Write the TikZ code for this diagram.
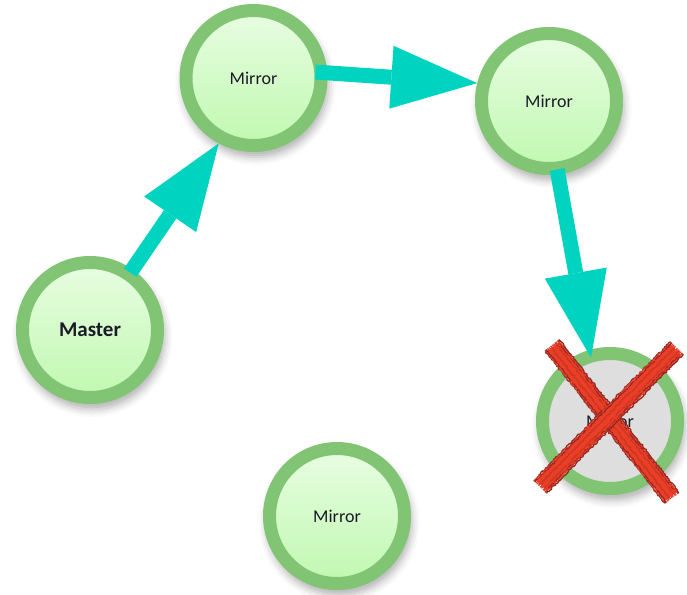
\documentclass[tikz,border=0pt]{standalone}
\usepackage{fontspec}
\setmainfont{Carlito}
\usetikzlibrary{arrows.meta,shadows.blur,decorations.pathmorphing,calc}

\definecolor{ringc}{RGB}{128,196,116}
\definecolor{filltop}{RGB}{232,253,226}
\definecolor{fillbot}{RGB}{192,248,176}
\definecolor{deadfill}{RGB}{222,222,222}
\definecolor{arrowc}{RGB}{0,212,192}
\definecolor{labelc}{RGB}{26,26,40}
\definecolor{crossc}{RGB}{234,62,38}
\definecolor{crossdark}{RGB}{150,40,35}

\tikzset{
  server/.style={circle, minimum size=135bp, inner sep=0pt,
    line width=13bp, draw=ringc, top color=filltop, bottom color=fillbot,
    text=labelc, font=\fontsize{18bp}{22bp}\selectfont,
    blur shadow={shadow xshift=2bp, shadow yshift=-6bp, shadow scale=1.08,
      shadow blur radius=7bp, shadow opacity=30}},
  masterserver/.style={server, font=\fontsize{21bp}{25bp}\selectfont\bfseries},
  deadserver/.style={server, top color=deadfill, bottom color=deadfill},
  conn/.style={draw=arrowc, line width=15bp,
    -{Triangle[length=86bp, width=63bp, line width=0pt]}},
  xbase/.style={draw=crossc, line width=15bp},
  xgrain/.style={line width=1.3bp, line join=round,
    decorate, decoration={random steps, segment length=1.6bp, amplitude=0.9bp}},
}

\begin{document}
\begin{tikzpicture}[x=1bp, y=-1bp]
  \useasboundingbox (0,0) rectangle (687,595);

  % servers
  \node[masterserver] (master) at (90,330) {Master};
  \node[server] (m1) at (253.5,78) {Mirror};
  \node[server] (m2) at (549,101) {Mirror};
  \node[server] (m3) at (337,516) {Mirror};
  \node[deadserver] (dead) at (610,421) {Mirror};

  % replication chain
  \draw[conn, shorten <=-4bp] (master.55) -- (m1.242);
  \draw[conn, shorten <=-12bp] (m1.4) -- (m2.166);
  \draw[conn, shorten <=-5bp, shorten >=-8bp] (m2.-83) -- (dead.106);

  % failed mirror crossed out with a rough, chalky stroke
  \coordinate (xa1) at (552,345);
  \coordinate (xa2) at (672,498);
  \coordinate (xb1) at (677,348);
  \coordinate (xb2) at (540,487);
  \foreach \s/\e in {xa1/xa2, xb1/xb2}{
    \draw[xbase] ($(\s)!2bp!(\e)$) -- ($(\e)!2bp!(\s)$);
    \foreach \o/\c in {-9/crossdark, -8/crossc, -7/crossdark, -5.5/crossc,
                       -4/crossc, -2/crossdark!40!crossc, 0/crossc,
                       2/crossc, 4/crossdark!40!crossc, 5.5/crossc,
                       7/crossdark, 8/crossc, 9/crossdark}{
      \draw[xgrain, draw=\c]
        ($(\s)!\o bp!90:(\e)$) -- ($(\e)!\o bp!-90:(\s)$);
    }
  }
\end{tikzpicture}
\end{document}
